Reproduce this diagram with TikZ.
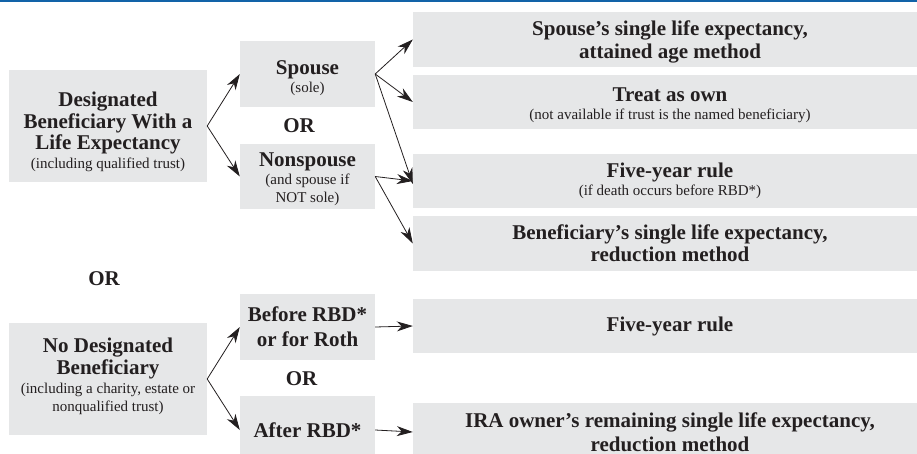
\documentclass[tikz,border=0pt]{standalone}
\usepackage{fontspec}
\setmainfont{Liberation Serif}
\usetikzlibrary{arrows.meta}
\definecolor{boxgray}{HTML}{E6E7E8}
\definecolor{inkc}{HTML}{231F20}
\definecolor{topblue}{HTML}{1263A8}
\newcommand\bigt{\fontsize{21}{22}\selectfont\bfseries}
\newcommand\smallt{\fontsize{15}{17}\selectfont\mdseries}
% strut on first line: raises line height -> shifts block down
\newcommand\tallstrut[1]{\rule{0pt}{#1pt}}
% strut on last line: adds depth -> shifts block up
\newcommand\deepstrut[1]{\rule[-#1pt]{0pt}{0pt}}
\tikzset{
  gbox/.style={fill=boxgray, draw=none, inner sep=0pt, align=center, text=inkc, font=\bigt},
  ortext/.style={anchor=base, inner sep=0pt, text=inkc, font=\bigt},
  arr/.style={draw=inkc, line width=0.8pt, -{Stealth[length=16pt,width=10pt,inset=5pt]}},
}
\begin{document}
\begin{tikzpicture}[x=1pt,y=-1pt]
\useasboundingbox (0,0) rectangle (917,454);
\fill[topblue] (0,0) rectangle (917,2.4);
% left column
\node[gbox, minimum width=198pt, minimum height=112pt] (L1) at (108,126)
  {\tallstrut{26.5}Designated\\[-0.5pt]Beneficiary With a\\[-0.5pt]Life Expectancy\\[-3pt]\smallt (including qualified trust)};
\node[gbox, minimum width=198pt, minimum height=112pt] (L2) at (108,379)
  {No Designated\\Beneficiary\\[-3pt]\smallt (including a charity, estate or\\[-4pt]\smallt nonqualified trust)\deepstrut{9.5}};
\node[ortext] (OR0) at (104,285) {OR};
% middle column
\node[gbox, minimum width=135pt, minimum height=66pt] (S) at (307.5,74)
  {\tallstrut{21.5}Spouse\\[-4pt]\smallt (sole)};
\node[ortext] (OR1) at (299,133) {OR};
\node[gbox, minimum width=135pt, minimum height=65pt] (N) at (307.5,176.5)
  {\tallstrut{18.5}Nonspouse\\[-4pt]\smallt (and spouse if\\[-4pt]\smallt NOT sole)};
\node[gbox, minimum width=135pt, minimum height=66pt] (B) at (307.5,327)
  {Before RBD*\\[3pt]or for Roth};
\node[ortext] (OR2) at (301.5,385) {OR};
\node[gbox, minimum width=135pt, minimum height=68pt] (A) at (307.5,430)
  {After RBD*};
% right column
\node[gbox, minimum width=514pt, minimum height=55pt] (R1) at (670,39.5)
  {\tallstrut{20.5}Spouse’s single life expectancy,\\[1pt]attained age method};
\node[gbox, minimum width=514pt, minimum height=54pt] (R2) at (670,102)
  {\tallstrut{20}Treat as own\\[-4pt]\smallt (not available if trust is the named beneficiary)};
\node[gbox, minimum width=514pt, minimum height=54pt] (R3) at (670,181)
  {Five-year rule\\[-4pt]\smallt (if death occurs before RBD*)};
\node[gbox, minimum width=514pt, minimum height=55pt] (R4) at (670,243.5)
  {Beneficiary’s single life expectancy,\\reduction method};
\node[gbox, minimum width=514pt, minimum height=54pt] (R5) at (670,326)
  {Five-year rule};
\node[gbox, minimum width=514pt, minimum height=58pt] (R6) at (670,432)
  {IRA owner’s remaining single life expectancy,\\[2pt]reduction method};
% connectors
\draw[arr] (L1.east) -- (S.west);
\draw[arr] (L1.east) -- (N.west);
\draw[arr] (S.east) -- (R1.west);
\draw[arr] (S.east) -- (R2.west);
\draw[arr] (S.east) -- ([yshift=-3pt]R3.west);
\draw[arr] (N.east) -- (R3.west);
\draw[arr] (N.east) -- (R4.west);
\draw[arr] (L2.east) -- (B.west);
\draw[arr] (L2.east) -- (A.west);
\draw[arr] (B.east) -- (R5.west);
\draw[arr] (A.east) -- (R6.west);
\end{tikzpicture}
\end{document}
